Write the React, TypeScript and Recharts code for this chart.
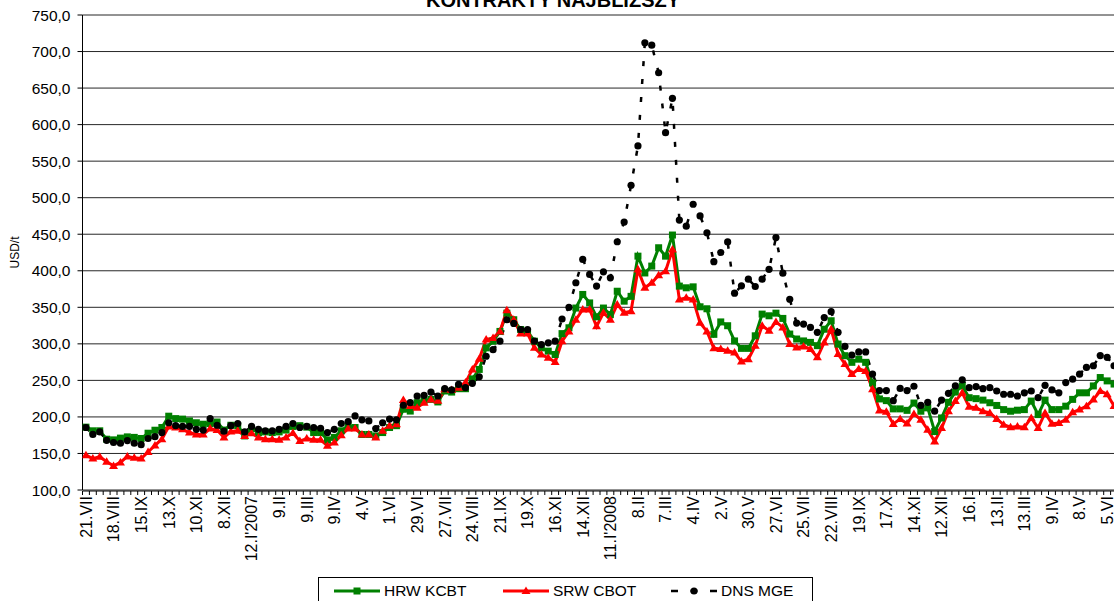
import { LineChart, Line, XAxis, YAxis, CartesianGrid, Legend } from 'recharts';

// weekly quotes, nearest contract, USD/t
const hrwKcbt = [
  186, 181, 181, 169.5, 168.6, 171, 172.7, 172, 170.5, 177.7,
  181.8, 185.5, 201, 197.7, 197, 194.5, 192, 190, 191, 193,
  182, 188.6, 188, 174, 184, 178.6, 179.5, 178.6, 179.5, 182,
  187, 188, 186, 178.6, 178.6, 168.6, 172, 181, 188, 185.5,
  176, 176, 174, 178.6, 185.5, 188, 210.5, 208, 219.5, 222,
  224, 220.5, 235.5, 234, 238.6, 238.6, 252, 265, 294.5, 303.6,
  317, 342, 333, 319.6, 317, 303.6, 294.5, 290, 285.4, 314,
  322, 349, 367.6, 356, 337, 349, 340, 372, 358.4, 365,
  420, 397, 406.4, 431.5, 420, 448.9, 379, 376.7, 378, 350.7,
  348, 313, 330, 324.8, 304, 293.8, 293.8, 311, 340.7, 338.4,
  342, 334.8, 313.4, 306.6, 304, 302, 297.5, 320, 331.6, 299.7,
  283.8, 274.7, 279, 274.7, 246.4, 224.6, 222.3, 211, 211, 209,
  219, 207.8, 212.4, 180, 198.6, 220, 234, 242.4, 226.3, 225,
  223, 219.4, 215.7, 210, 207.8, 209.2, 210, 221.7, 203.2, 223,
  210, 210, 214.7, 224, 233, 233, 242.4, 253.9, 249.3, 245,
];

const srwCbot = [
  147.7, 143, 145.5, 138.6, 133, 137.7, 146, 144, 143, 152,
  161, 169.5, 187, 185.5, 183, 178.6, 176, 176, 184, 182,
  172, 180, 181, 174, 177.7, 172, 169.5, 169.5, 168.6, 172,
  178, 167, 170.5, 168.6, 168.6, 160.5, 165, 175, 184, 184,
  176, 176, 172, 181, 188, 190, 223, 215, 212.7, 219.5,
  224, 222, 237.7, 237, 240, 247, 265, 279.5, 306, 308,
  317, 346, 333, 314, 314, 294.5, 285.4, 281, 275, 303.6,
  317, 333, 347, 347, 324, 342.5, 333, 354, 342.5, 344.7,
  401.8, 376.7, 383.6, 394, 399.5, 429, 360.7, 363, 360.7, 328.8,
  317, 294, 293, 290.6, 288, 276, 279, 297.5, 324.8, 318,
  330, 322.5, 299.7, 295, 296.5, 293, 281.5, 302, 320, 286,
  272.4, 258.7, 265.6, 263, 238, 208.7, 207, 190.4, 197, 191,
  204, 196.3, 182.5, 166.4, 184.8, 207.8, 221.7, 233, 213.8, 212.4,
  207.8, 205.5, 197.2, 189.4, 186, 187, 186, 198.6, 184.8, 205.5,
  190.8, 191.7, 196.3, 206.5, 210, 214.7, 224, 235.5, 231, 215,
];

const dnsMge = [
  185.5, 176, 179.5, 168, 165, 164, 167.7, 164, 162, 170.5,
  173, 178.6, 192, 188, 187, 187, 183, 182, 197.7, 188.6,
  180.5, 188, 191, 179.5, 187, 183, 181, 181, 183, 187,
  191, 185.5, 187, 185.5, 184.5, 178.6, 183, 191, 193.6, 201.4,
  196, 194.5, 184, 192, 197, 196, 216, 219.5, 228.6, 229.5,
  234, 228.6, 238.6, 237, 244.5, 240, 246, 255, 283, 292,
  303.6, 333, 328, 319.6, 319.6, 303.6, 299, 301.4, 303.6, 334,
  350, 383.6, 415.5, 395, 379, 398.6, 390.4, 439.7, 466.7, 517,
  570.8, 712, 708.7, 671, 589, 636, 469.4, 461, 491, 475,
  452, 412.5, 425, 439.5, 369.4, 379.4, 388.5, 378.5, 388.5, 402,
  445.4, 396.7, 361, 328.4, 327, 322.5, 315.7, 336, 344, 315.7,
  296.5, 284.7, 289, 289, 258.7, 236, 236, 222.3, 239, 236,
  242, 215.7, 220, 207.8, 223, 232.3, 242.4, 250.7, 240, 241.5,
  238.7, 240, 235.5, 231, 231, 228.6, 233, 235.5, 226.3, 243.3,
  236.9, 233, 247, 251.6, 258.5, 267.7, 270, 283.9, 281.6, 270,
];

// one label every 4th week
const dateLabels = [
  '21.VII', '18.VIII', '15.IX', '13.X', '10.XI', '8.XII', "12.I'2007", '9.II', '9.III', '9.IV',
  '4.V', '1.VI', '29.VI', '27.VII', '24.VIII', '21.IX', '19.X', '16.XI', '14.XII', "11.I'2008",
  '8.II', '7.III', '4.IV', '2.V', '30.V', '27.VI', '25.VII', '22.VIII', '19.IX', '17.X',
  '14.XI', '12.XII', '16.I', '13.II', '13.III', '9.IV', '8.V', '5.VI',
];

const yTicks = [100, 150, 200, 250, 300, 350, 400, 450, 500, 550, 600, 650, 700, 750];

const series = [
  { key: 'hrw', name: 'HRW KCBT', color: '#008000', marker: 'square' },
  { key: 'srw', name: 'SRW CBOT', color: '#ff0000', marker: 'triangle' },
  { key: 'dns', name: 'DNS MGE', color: '#000000', marker: 'circle' },
];

const data = hrwKcbt.map((v, i) => ({ i, hrw: v, srw: srwCbot[i], dns: dnsMge[i] }));
const count = data.length;
const labelTicks = dateLabels.map((_, k) => k * 4);
const minorTicks = Array.from({ length: count + 1 }, (_, k) => k - 0.5);

const FONT = '"Liberation Sans", Arial, sans-serif';

const Marker = ({ kind, cx, cy, color }: { kind: string; cx: number; cy: number; color: string }) => {
  if (kind === 'square') {
    return <rect x={cx - 3.5} y={cy - 3.5} width={7} height={7} fill={color} />;
  }
  if (kind === 'triangle') {
    return <polygon points={`${cx},${cy - 4.5} ${cx + 4.5},${cy + 3} ${cx - 4.5},${cy + 3}`} fill={color} />;
  }
  return <circle cx={cx} cy={cy} r={3.6} fill={color} />;
};

const makeDot = (kind: string, color: string) => (props: any) => {
  const { cx, cy, index } = props;
  if (cx == null || cy == null) return <g key={index} />;
  return (
    <g key={index}>
      <Marker kind={kind} cx={cx} cy={cy} color={color} />
    </g>
  );
};

const DateTick = ({ x, y, payload }: any) => (
  <text
    x={x}
    y={y}
    dy="0.36em"
    transform={`rotate(-90, ${x}, ${y})`}
    textAnchor="end"
    fontSize={16}
    fill="#000"
  >
    {dateLabels[payload.value / 4]}
  </text>
);

const LegendBox = () => (
  <div
    style={{
      position: 'relative',
      width: 495,
      height: 34,
      border: '1px solid #000',
      background: '#fff',
      boxSizing: 'border-box',
      fontSize: 15.5,
    }}
  >
    {series.map((s, k) => {
      const left = [15, 184, 352][k];
      return (
        <div key={s.key} style={{ position: 'absolute', left, top: 5, display: 'flex', alignItems: 'center' }}>
          <svg width={46} height={16}>
            <line
              x1={0}
              y1={8}
              x2={46}
              y2={8}
              stroke={s.color}
              strokeWidth={s.marker === 'circle' ? 2.5 : 3}
              strokeDasharray={s.marker === 'circle' ? '7 12.5' : undefined}
            />
            <Marker kind={s.marker} cx={23} cy={8} color={s.color} />
          </svg>
          <span style={{ marginLeft: 4, lineHeight: '16px' }}>{s.name}</span>
        </div>
      );
    })}
  </div>
);

export default function App() {
  return (
    <div
      style={{
        position: 'fixed',
        left: 0,
        top: 0,
        width: 1114,
        height: 601,
        overflow: 'hidden',
        background: '#fff',
        fontFamily: FONT,
      }}
    >
      <div
        style={{
          position: 'absolute',
          left: 0,
          top: -10,
          width: 1106,
          textAlign: 'center',
          fontWeight: 'bold',
          fontSize: 20,
          lineHeight: '20px',
          zIndex: 2,
        }}
      >
        KONTRAKTY NAJBLIŻSZY
      </div>
      <LineChart
        width={1128}
        height={640}
        data={data}
        margin={{ top: 15, right: 10.5, bottom: 148, left: 0 }}
        style={{ fontFamily: FONT }}
      >
        <CartesianGrid vertical={false} stroke="#000" strokeOpacity={0.85} />
        <XAxis
          xAxisId="minor"
          type="number"
          dataKey="i"
          domain={[-0.5, count - 0.5]}
          allowDataOverflow
          ticks={minorTicks}
          interval={0}
          height={1}
          axisLine={{ stroke: '#000' }}
          tickLine={{ stroke: '#000' }}
          tickSize={4}
          tick={() => <g />}
        />
        <XAxis
          type="number"
          dataKey="i"
          domain={[-0.5, count - 0.5]}
          allowDataOverflow
          ticks={labelTicks}
          interval={0}
          height={1}
          axisLine={false}
          tickLine={false}
          tickSize={0}
          tickMargin={6}
          tick={<DateTick />}
        />
        <YAxis
          width={82.5}
          domain={[100, 750]}
          ticks={yTicks}
          interval={0}
          axisLine={{ stroke: '#000' }}
          tickLine={{ stroke: '#000' }}
          tickSize={5}
          tickMargin={7}
          tick={{ fill: '#000', fontSize: 15.5 }}
          tickFormatter={(v: number) => v.toFixed(1).replace('.', ',')}
          label={({ viewBox }: any) => (
            <text
              x={15}
              y={viewBox.y + viewBox.height / 2}
              dy="0.36em"
              transform={`rotate(-90, 15, ${viewBox.y + viewBox.height / 2})`}
              textAnchor="middle"
              fontSize={12}
              fill="#000"
            >
              USD/t
            </text>
          )}
        />
        {series.map((s) => (
          <Line
            key={s.key}
            type="linear"
            dataKey={s.key}
            name={s.name}
            stroke={s.color}
            strokeWidth={s.marker === 'circle' ? 2.5 : 3}
            strokeDasharray={s.marker === 'circle' ? '5 13' : undefined}
            dot={makeDot(s.marker, s.color)}
            activeDot={false}
            isAnimationActive={false}
          />
        ))}
        <Legend
          layout="horizontal"
          verticalAlign="middle"
          align="center"
          wrapperStyle={{ left: 318, top: 577, width: 495, height: 34 }}
          content={() => <LegendBox />}
        />
      </LineChart>
    </div>
  );
}
